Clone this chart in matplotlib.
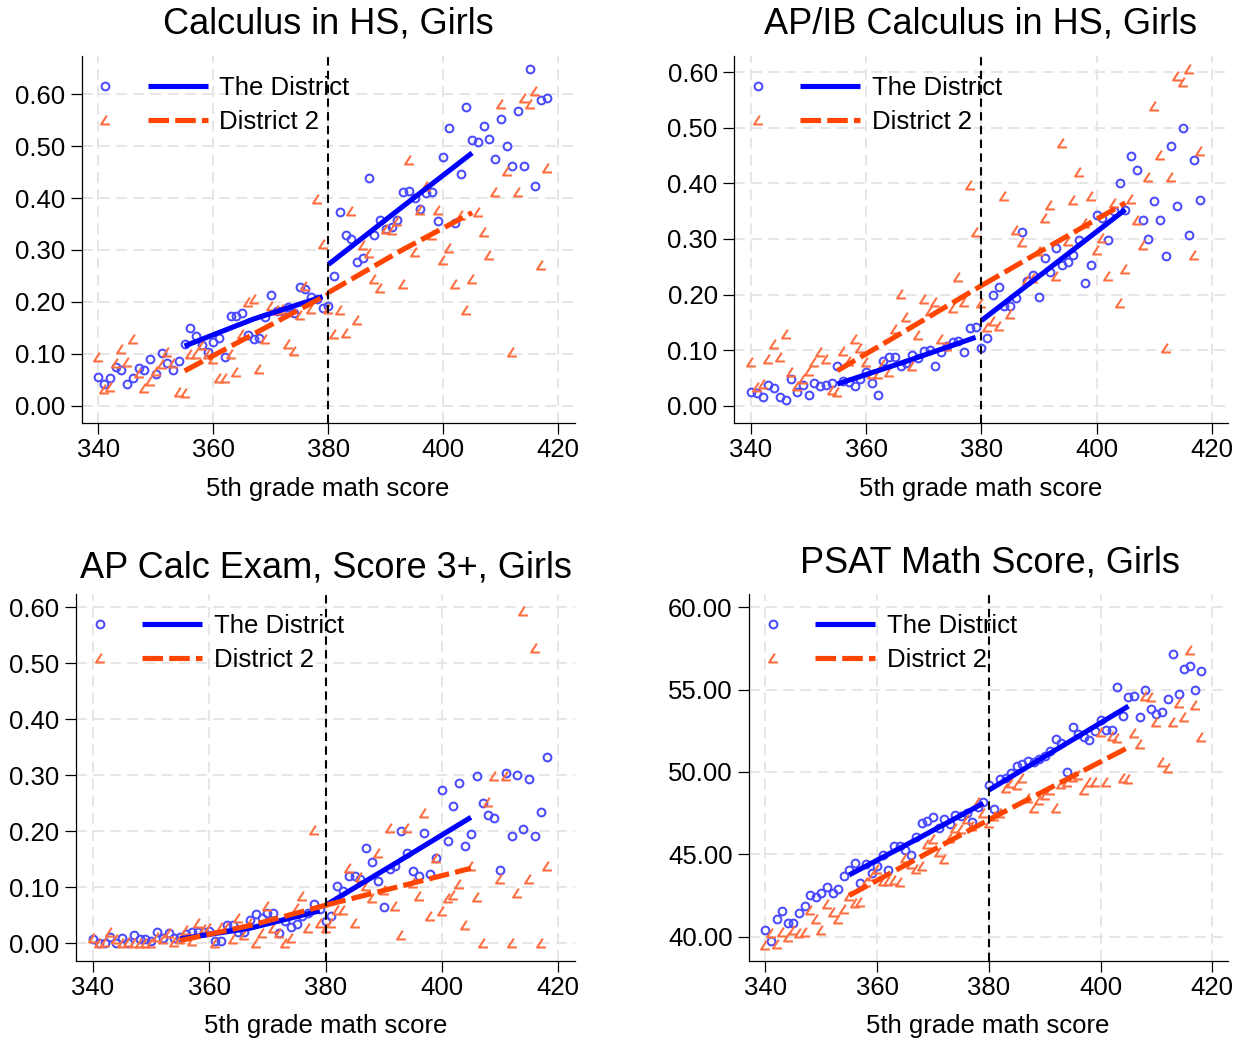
import numpy as np
import matplotlib
matplotlib.use("Agg")
import matplotlib.pyplot as plt
from matplotlib.path import Path
from matplotlib.lines import Line2D
from matplotlib.legend_handler import HandlerTuple

plt.rcParams['font.family'] = ['Liberation Sans', 'DejaVu Sans']

# ---------------- data ----------------
scores = list(range(340, 419))

titles = ["Calculus in HS, Girls", "AP/IB Calculus in HS, Girls",
          "AP Calc Exam, Score 3+, Girls", "PSAT Math Score, Girls"]
series_labels = ["The District", "District 2"]
xlabel_text = "5th grade math score"
xticks = [340, 360, 380, 400, 420]
cutoff = 380

calc_district = [0.056, 0.042, 0.054, 0.074, 0.069, 0.042, 0.054, 0.072, 0.069, 0.089,
                 0.061, 0.102, 0.083, 0.069, 0.087, 0.118, 0.150, 0.135, 0.117, 0.104,
                 0.122, 0.130, 0.094, 0.172, 0.172, 0.178, 0.137, 0.129, 0.131, 0.170,
                 0.213, 0.183, 0.183, 0.190, 0.178, 0.228, 0.224, 0.210, 0.205, 0.188,
                 0.193, 0.250, 0.373, 0.329, 0.321, 0.277, 0.285, 0.438, 0.329, 0.358,
                 0.340, 0.345, 0.357, 0.412, 0.414, 0.400, 0.379, 0.409, 0.412, 0.355,
                 0.480, 0.536, 0.352, 0.447, 0.576, 0.511, 0.509, 0.539, 0.513, 0.476,
                 0.553, 0.500, 0.462, 0.567, 0.462, 0.648, 0.424, 0.589, 0.593]
calc_d2 = [0.093, 0.033, 0.036, 0.083, 0.109, 0.085, 0.128, 0.063, 0.035, 0.048,
           0.067, 0.080, 0.103, 0.083, 0.027, 0.024, 0.099, 0.100, 0.117, 0.100,
           0.090, 0.054, 0.054, 0.099, 0.065, 0.138, 0.200, 0.206, 0.070, 0.128,
           0.192, 0.185, 0.186, 0.119, 0.106, 0.175, 0.230, 0.186, 0.399, 0.312,
           0.186, 0.138, 0.185, 0.141, 0.375, 0.165, 0.310, 0.295, 0.244, 0.226,
           0.340, 0.338, 0.355, 0.234, 0.473, 0.296, 0.378, 0.423, 0.328, 0.377,
           0.281, 0.303, 0.234, 0.367, 0.185, 0.245, 0.373, 0.335, 0.291, 0.412,
           0.581, 0.453, 0.104, 0.412, 0.593, 0.582, 0.606, 0.272, 0.458]

apib_district = [0.024, 0.023, 0.016, 0.037, 0.031, 0.015, 0.010, 0.048, 0.025, 0.037,
                 0.020, 0.040, 0.036, 0.037, 0.041, 0.071, 0.045, 0.042, 0.035, 0.048,
                 0.061, 0.040, 0.019, 0.081, 0.087, 0.087, 0.071, 0.077, 0.092, 0.085,
                 0.098, 0.100, 0.071, 0.097, 0.108, 0.114, 0.116, 0.097, 0.139, 0.141,
                 0.104, 0.122, 0.200, 0.214, 0.180, 0.180, 0.193, 0.313, 0.225, 0.235,
                 0.196, 0.266, 0.241, 0.283, 0.253, 0.259, 0.271, 0.298, 0.220, 0.253,
                 0.344, 0.338, 0.298, 0.350, 0.400, 0.353, 0.449, 0.424, 0.334, 0.300,
                 0.369, 0.334, 0.269, 0.467, 0.359, 0.500, 0.308, 0.442, 0.371]
apib_d2 = [0.079, 0.033, 0.039, 0.084, 0.111, 0.087, 0.129, 0.060, 0.036, 0.048,
           0.063, 0.079, 0.097, 0.084, 0.029, 0.025, 0.099, 0.080, 0.120, 0.103,
           0.078, 0.057, 0.057, 0.075, 0.060, 0.138, 0.201, 0.159, 0.072, 0.127,
           0.192, 0.170, 0.186, 0.120, 0.108, 0.175, 0.231, 0.186, 0.398, 0.313,
           0.184, 0.141, 0.153, 0.143, 0.377, 0.165, 0.316, 0.295, 0.226, 0.230,
           0.278, 0.338, 0.362, 0.234, 0.473, 0.296, 0.371, 0.421, 0.329, 0.377,
           0.281, 0.302, 0.234, 0.365, 0.184, 0.246, 0.372, 0.334, 0.290, 0.411,
           0.540, 0.452, 0.104, 0.411, 0.594, 0.582, 0.606, 0.272, 0.459]

apexam_district = [0.008, 0.000, 0.000, 0.012, 0.000, 0.010, 0.000, 0.014, 0.008, 0.008,
                   0.005, 0.021, 0.010, 0.018, 0.010, 0.012, 0.016, 0.021, 0.020, 0.020,
                   0.022, 0.005, 0.005, 0.033, 0.033, 0.021, 0.020, 0.042, 0.052, 0.045,
                   0.054, 0.055, 0.018, 0.039, 0.030, 0.035, 0.048, 0.055, 0.070, 0.062,
                   0.040, 0.049, 0.103, 0.093, 0.120, 0.121, 0.115, 0.170, 0.146, 0.111,
                   0.064, 0.133, 0.138, 0.200, 0.161, 0.129, 0.121, 0.197, 0.123, 0.152,
                   0.274, 0.183, 0.245, 0.286, 0.174, 0.195, 0.298, 0.250, 0.230, 0.224,
                   0.131, 0.305, 0.192, 0.300, 0.205, 0.294, 0.192, 0.235, 0.333]
apexam_d2 = [0.010, 0.000, 0.002, 0.021, 0.007, 0.000, 0.002, 0.000, 0.000, 0.000,
             0.000, 0.011, 0.008, 0.018, 0.002, 0.008, 0.024, 0.005, 0.037, 0.026,
             0.027, 0.000, 0.030, 0.029, 0.008, 0.045, 0.015, 0.036, 0.000, 0.018,
             0.067, 0.027, 0.018, 0.000, 0.010, 0.063, 0.085, 0.027, 0.203, 0.036,
             0.027, 0.036, 0.060, 0.060, 0.135, 0.036, 0.118, 0.103, 0.081, 0.161,
             0.096, 0.206, 0.067, 0.015, 0.206, 0.108, 0.084, 0.232, 0.048, 0.152,
             0.057, 0.081, 0.087, 0.106, 0.033, 0.138, 0.083, 0.000, 0.252, 0.298,
             0.114, 0.298, 0.000, 0.090, 0.593, 0.115, 0.527, 0.000, 0.138]

psat_district = [40.40, 39.74, 41.05, 41.58, 40.85, 40.85, 41.42, 41.86, 42.53, 42.43,
                 42.67, 43.04, 42.67, 42.87, 43.70, 44.05, 44.45, 43.24, 44.39, 43.85,
                 44.29, 44.94, 44.05, 45.50, 45.50, 45.26, 44.94, 46.07, 46.88, 47.02,
                 47.25, 46.58, 47.13, 46.82, 47.39, 47.30, 47.49, 46.98, 47.90, 48.20,
                 49.19, 47.73, 49.55, 49.62, 49.96, 50.38, 50.49, 50.69, 50.60, 50.77,
                 51.00, 51.26, 52.00, 51.74, 50.02, 52.75, 52.31, 52.15, 51.94, 52.50,
                 53.16, 52.55, 52.55, 55.14, 53.42, 54.57, 54.62, 53.36, 54.98, 53.83,
                 53.52, 53.64, 54.43, 57.17, 54.72, 56.27, 56.44, 54.98, 56.11]
psat_d2 = [39.50, 40.20, 39.55, 40.30, 40.00, 40.40, 40.20, 40.30, 41.60, 41.10,
           40.40, 42.00, 41.50, 41.05, 41.66, 42.47, 42.02, 42.13, 43.30, 43.70,
           44.09, 43.40, 43.38, 43.44, 43.34, 44.76, 44.39, 44.09, 44.29, 45.63,
           45.91, 45.16, 44.70, 46.01, 46.58, 46.52, 47.13, 46.70, 48.18, 47.53,
           46.92, 47.30, 47.50, 49.00, 49.31, 49.20, 49.66, 48.40, 47.79, 48.30,
           48.60, 48.90, 47.79, 49.30, 49.40, 49.70, 49.80, 48.90, 49.41, 49.41,
           52.45, 49.41, 52.19, 52.04, 49.66, 49.55, 52.39, 51.68, 54.62, 54.57,
           53.06, 50.63, 50.22, 53.06, 54.17, 53.36, 57.41, 54.07, 52.15]

# fitted lines (left of cutoff, right of cutoff)
fit_x_left_district = [355, 367, 379]
fit_x_left_d2 = [355, 367.5, 380]
fit_x_right = [380, 392.5, 405]

calc_fit = {"dl": [0.115, 0.167, 0.210], "dr": [0.272, 0.380, 0.487],
            "ol": [0.067, 0.141, 0.215], "or": [0.218, 0.298, 0.372]}
apib_fit = {"dl": [0.039, 0.080, 0.123], "dr": [0.153, 0.253, 0.353],
            "ol": [0.063, 0.139, 0.216], "or": [0.216, 0.291, 0.365]}
apexam_fit = {"dl": [0.008, 0.027, 0.058], "dr": [0.068, 0.146, 0.225],
              "ol": [0.005, 0.033, 0.068], "or": [0.068, 0.101, 0.134]}
psat_fit = {"dl": [43.75, 45.90, 48.10], "dr": [48.90, 51.45, 54.00],
            "ol": [42.50, 44.80, 47.10], "or": [47.10, 49.30, 51.50]}

yticks_share = [0.0, 0.1, 0.2, 0.3, 0.4, 0.5, 0.6]
yticks_psat = [40, 45, 50, 55, 60]

# ---------------- styling ----------------
W, H = 1237, 1040
fig = plt.figure(figsize=(W / 100, H / 100), dpi=100)

BLUE_PT = '#4a4aff'
BLUE_LN = '#0000ff'
ORG_PT = '#ff6e40'
ORG_LN = '#ff4500'
FS = 18.5
CIRC_MS, CIRC_MEW = 5.6, 1.45
ANG_MS, ANG_MEW = 7.0, 1.5
LW = 3.7
DASH = (0, (4, 1.2))

angle_marker = Path([(0.15, 0.55), (-0.5, -0.45), (0.5, -0.45)],
                    [Path.MOVETO, Path.LINETO, Path.LINETO])

# axes rectangles in pixels: left, right, top, bottom
rects = [(81.7, 575.0, 56.0, 422.7), (734.3, 1228.4, 56.0, 422.7),
         (76.2, 575.0, 594.0, 961.0), (749.3, 1228.4, 594.0, 961.0)]
ylims = [(-0.0328, 0.6738), (-0.0306, 0.6293), (-0.0316, 0.6238), (38.52, 60.81)]
title_pos = [(328, 24), (981, 24), (326, 568), (990, 563)]
xlabel_pos = [(328, 489), (981, 489), (326, 1026), (988, 1026)]

panels = [(calc_district, calc_d2, calc_fit, yticks_share),
          (apib_district, apib_d2, apib_fit, yticks_share),
          (apexam_district, apexam_d2, apexam_fit, yticks_share),
          (psat_district, psat_d2, psat_fit, yticks_psat)]

for i, (dvals, ovals, fit, yt) in enumerate(panels):
    l, r, t, b = rects[i]
    ax = fig.add_axes([l / W, 1 - b / H, (r - l) / W, (b - t) / H])
    ax.set_xlim(337.1, 422.9)
    ax.set_ylim(*ylims[i])
    ax.set_xticks(xticks)
    ax.set_yticks(yt)
    ax.set_yticklabels([f"{v:.2f}" for v in yt])
    ax.tick_params(axis='both', direction='out', length=8, width=0.9,
                   labelsize=FS, color='black')
    ax.tick_params(axis='x', pad=3)
    ax.tick_params(axis='y', pad=4)
    for s in ['top', 'right']:
        ax.spines[s].set_visible(False)
    for s in ['left', 'bottom']:
        ax.spines[s].set_linewidth(0.9)
    ax.grid(True, color='#e4e4e4', linewidth=1.3, linestyle=(0, (6, 3.5)))
    ax.set_axisbelow(True)

    ax.plot(scores, dvals, linestyle='none', marker='o', markersize=CIRC_MS,
            markerfacecolor='none', markeredgecolor=BLUE_PT,
            markeredgewidth=CIRC_MEW, zorder=3)
    ax.plot(scores, ovals, linestyle='none', marker=angle_marker, markersize=ANG_MS,
            markerfacecolor='none', markeredgecolor=ORG_PT,
            markeredgewidth=ANG_MEW, zorder=3)
    ax.plot(fit_x_left_district, fit["dl"], color=BLUE_LN, lw=LW,
            solid_capstyle='butt', zorder=4)
    ax.plot(fit_x_right, fit["dr"], color=BLUE_LN, lw=LW,
            solid_capstyle='butt', zorder=4)
    ax.plot(fit_x_left_d2, fit["ol"], color=ORG_LN, lw=LW,
            linestyle=DASH, dash_capstyle='butt', zorder=5)
    ax.plot(fit_x_right, fit["or"], color=ORG_LN, lw=LW,
            linestyle=DASH, dash_capstyle='butt', zorder=5)
    ax.axvline(cutoff, color='black', lw=1.5, linestyle=(0, (4, 2.6)), zorder=6)

    # legend
    h_dm = Line2D([], [], linestyle='none', marker='o', markersize=CIRC_MS,
                  markerfacecolor='none', markeredgecolor=BLUE_PT,
                  markeredgewidth=CIRC_MEW)
    h_dl = Line2D([], [], color=BLUE_LN, lw=LW, solid_capstyle='butt')
    h_om = Line2D([], [], linestyle='none', marker=angle_marker, markersize=ANG_MS,
                  markerfacecolor='none', markeredgecolor=ORG_PT,
                  markeredgewidth=ANG_MEW)
    h_ol = Line2D([], [], color=ORG_LN, lw=LW, linestyle=DASH,
                  dash_capstyle='butt')
    fs_px = FS * 100 / 72
    leg_left = l + 23.5 - 30
    leg_top = t + 20
    ax.legend([(h_dm, h_dl), (h_om, h_ol)], series_labels,
              handler_map={tuple: HandlerTuple(ndivide=None, pad=12.4 / fs_px)},
              loc='upper left',
              bbox_to_anchor=(leg_left / W, 1 - leg_top / H),
              bbox_transform=fig.transFigure,
              frameon=False, fontsize=FS, borderpad=0, borderaxespad=0,
              handlelength=132.4 / fs_px, handletextpad=11.6 / fs_px,
              labelspacing=0.40, numpoints=1)

    fig.text(title_pos[i][0] / W, 1 - title_pos[i][1] / H, titles[i],
             ha='center', va='center', fontsize=26)
    fig.text(xlabel_pos[i][0] / W, 1 - xlabel_pos[i][1] / H, xlabel_text,
             ha='center', va='center', fontsize=FS)

fig.savefig("out.png", dpi=100, facecolor='white')
